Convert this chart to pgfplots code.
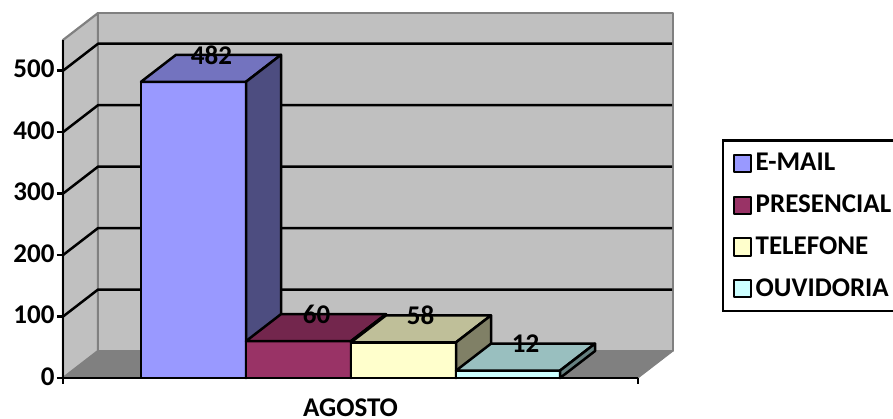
\documentclass[border=0pt]{standalone}
\usepackage{fontspec}
\setmainfont{Carlito}
\usepackage{pgfplots}
\pgfplotsset{compat=1.18}

\definecolor{wallgray}{HTML}{C0C0C0}
\definecolor{edgegray}{HTML}{808080}
\definecolor{mailf}{HTML}{9999FF}
\definecolor{mailt}{HTML}{7373BF}
\definecolor{mails}{HTML}{4D4D80}
\definecolor{presf}{HTML}{993366}
\definecolor{prest}{HTML}{73264D}
\definecolor{press}{HTML}{4D1A33}
\definecolor{telef}{HTML}{FFFFCC}
\definecolor{telet}{HTML}{BFBF99}
\definecolor{teles}{HTML}{808066}
\definecolor{ouvif}{HTML}{CCFFFF}
\definecolor{ouvit}{HTML}{99BFBF}
\definecolor{ouvis}{HTML}{668080}

\newcommand{\lblfont}{\fontsize{27}{30}\selectfont\bfseries}

\begin{document}
\begin{tikzpicture}
\useasboundingbox (-63pt,-41pt) rectangle (830pt,378pt);
\begin{axis}[
  scale only axis,
  width=575pt,
  height=338pt,
  xmin=0, xmax=575,
  ymin=0, ymax=550,
  clip=false,
  axis on top,
  axis x line*=bottom,
  axis y line*=left,
  axis line style={-,line width=2.5pt,black},
  every axis plot/.append style={line join=round},
  xtick={0,575},
  xticklabels={},
  ytick={0,100,200,300,400,500},
  tick style={black,line width=2.5pt},
  tick align=outside,
  major tick length=6pt,
  /pgf/number format/assume math mode=true,
  yticklabel style={font=\lblfont,yshift=1.5pt,xshift=1pt},
  xlabel={AGOSTO},
  xlabel style={font=\lblfont,inner sep=0pt,at={(axis description cs:0.5,0)},anchor=center,yshift=-30pt},
  legend style={
    at={(1.146,0.707)},
    anchor=north west,
    draw=black,
    line width=2.5pt,
    font=\lblfont,
    inner xsep=9.5pt,
    inner ysep=11pt,
    row sep=18.7pt,
    legend cell align=left,
    /tikz/every odd column/.append style={column sep=2pt},
  },
  legend image code/.code={
    \draw[#1,draw=black,line width=2pt] (0pt,-9pt) rectangle (17pt,8pt);
  },
]
% walls and floor
\addplot[fill=wallgray,draw=edgegray,line width=2.2pt,forget plot] coordinates {(0,0) (35,43.9) (35,593.9) (0,550)} --cycle;
\addplot[fill=wallgray,draw=edgegray,line width=2.2pt,forget plot] coordinates {(35,43.9) (610,43.9) (610,593.9) (35,593.9)} --cycle;
\addplot[fill=edgegray,draw=edgegray,line width=1pt,forget plot] coordinates {(0,0) (35,43.9) (610,43.9) (575,0)} --cycle;
% gridlines
\addplot[black,line width=2.5pt,forget plot,unbounded coords=jump] coordinates {
  (0,100) (35,143.9) (609,143.9) (0,nan)
  (0,200) (35,243.9) (609,243.9) (0,nan)
  (0,300) (35,343.9) (609,343.9) (0,nan)
  (0,400) (35,443.9) (609,443.9) (0,nan)
  (0,500) (35,543.9) (609,543.9)
};
% E-MAIL 482
\addplot[fill=mailf,draw=black,line width=2.5pt,forget plot] coordinates {(78,0) (183,0) (183,482) (78,482)} --cycle;
\addplot[fill=mailt,draw=black,line width=2.5pt,forget plot] coordinates {(78,482) (183,482) (218,525.9) (113,525.9)} --cycle;
\addplot[fill=mails,draw=black,line width=2.5pt,forget plot] coordinates {(183,0) (218,43.9) (218,525.9) (183,482)} --cycle;
% PRESENCIAL 60
\addplot[fill=presf,draw=black,line width=2.5pt,forget plot] coordinates {(183,0) (288,0) (288,60) (183,60)} --cycle;
\addplot[fill=prest,draw=black,line width=2.5pt,forget plot] coordinates {(183,60) (288,60) (323,103.9) (218,103.9)} --cycle;
\addplot[fill=press,draw=black,line width=2.5pt,forget plot] coordinates {(288,0) (323,43.9) (323,103.9) (288,60)} --cycle;
% TELEFONE 58
\addplot[fill=telef,draw=black,line width=2.5pt,forget plot] coordinates {(288,0) (393,0) (393,58) (288,58)} --cycle;
\addplot[fill=telet,draw=black,line width=2.5pt,forget plot] coordinates {(288,58) (393,58) (428,101.9) (323,101.9)} --cycle;
\addplot[fill=teles,draw=black,line width=2.5pt,forget plot] coordinates {(393,0) (428,43.9) (428,101.9) (393,58)} --cycle;
% OUVIDORIA 12
\addplot[fill=ouvif,draw=black,line width=2.5pt,forget plot] coordinates {(393,0) (497,0) (497,12) (393,12)} --cycle;
\addplot[fill=ouvit,draw=black,line width=2.5pt,forget plot] coordinates {(393,12) (497,12) (532,55.9) (428,55.9)} --cycle;
\addplot[fill=ouvis,draw=black,line width=2.5pt,forget plot] coordinates {(497,0) (532,43.9) (532,55.9) (497,12)} --cycle;
% value labels, centred on the back edge of each top face
\addplot[
  only marks,
  mark size=0pt,
  forget plot,
  point meta=explicit,
  nodes near coords={\pgfmathprintnumber{\pgfplotspointmeta}},
  nodes near coords align=center,
  every node near coord/.append style={font=\lblfont,text=black,anchor=center,inner sep=0pt},
] table[meta=v] {
x y v
148.5 525.9 482
253.5 103.9 60
357.5 101.9 58
462.5 55.9 12
};
\addlegendimage{fill=mailf}
\addlegendentry{E-MAIL}
\addlegendimage{fill=presf}
\addlegendentry{PRESENCIAL}
\addlegendimage{fill=telef}
\addlegendentry{TELEFONE}
\addlegendimage{fill=ouvif}
\addlegendentry{OUVIDORIA}
\end{axis}
\end{tikzpicture}
\end{document}
